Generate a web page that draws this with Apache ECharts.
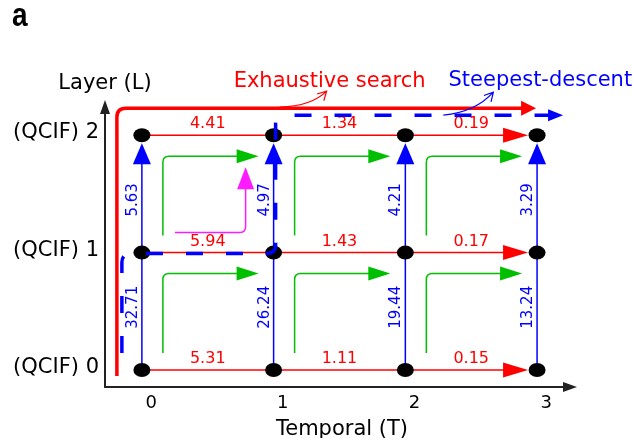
<!DOCTYPE html>
<html><head><meta charset="utf-8">
<script src="https://cdn.jsdelivr.net/npm/echarts@6/dist/echarts.min.js"></script>
<style>html,body{margin:0;padding:0;background:#fff}#c{width:633px;height:438px}</style>
</head><body><div id="c"></div>
<script>
// ---- data ----
const temporalTicks = ['0', '1', '2', '3'];
const layerTicks = ['(QCIF) 0', '(QCIF) 1', '(QCIF) 2'];
// temporal transition costs (T -> T+1) on each layer
const temporalCostL0 = [5.31, 1.11, 0.15];
const temporalCostL1 = [5.94, 1.43, 0.17];
const temporalCostL2 = [4.41, 1.34, 0.19];
// layer transition costs (L -> L+1) at each temporal index
const layerCost01 = [32.71, 26.24, 19.44, 13.24];
const layerCost12 = [5.63, 4.97, 4.21, 3.29];
// diagonal (temporal+layer) moves, given by lower-left node [T, L]
const diagonalMoves = [[0, 0], [1, 0], [2, 0], [0, 1], [1, 1], [2, 1]];
const highlightedMove = [[0, 1]];
// search paths through [T, L]
const exhaustivePath = [[0, 0], [0, 2], [3, 2]];
const steepestPath = [[0, 0], [0, 1], [1, 1], [1, 2], [3, 2]];
const pathNames = ['Exhaustive search', 'Steepest-descent'];

// ---- styles ----
const RED = '#ff0000', BLUE = '#0000ff', GREEN = '#00bf00', MAGENTA = '#ff1aff';
const FONT = '"DejaVu Sans", Verdana, sans-serif';

const temporalCosts = [temporalCostL0, temporalCostL1, temporalCostL2];
const layerCosts = [layerCost01, layerCost12];
const hData = [];
temporalCosts.forEach((row, l) => row.forEach((c, t) => hData.push([t, l, c])));
const vData = [];
layerCosts.forEach((col, l) => col.forEach((c, t) => vData.push([t, l, c])));
const nodeData = [];
layerTicks.forEach((_, l) => temporalTicks.forEach((_, t) => nodeData.push([t, l])));
const lastT = temporalTicks.length - 1, lastL = layerTicks.length - 1;

function tri(tip, ux, uy, len, hw, color) {
  const bx = tip[0] - ux * len, by = tip[1] - uy * len;
  const px = -uy, py = ux;
  return { type: 'polygon', shape: { points: [tip, [bx + px * hw, by + py * hw], [bx - px * hw, by - py * hw]] }, style: { fill: color } };
}

function renderHorizontal(params, api) {
  const t = api.value(0), l = api.value(1), cost = api.value(2);
  const p0 = api.coord([t, l]), p1 = api.coord([t + 1, l]);
  const last = (t + 1 === lastT);
  const ch = [];
  ch.push({ type: 'line', shape: { x1: p0[0], y1: p0[1], x2: last ? p1[0] - 25 : p1[0], y2: p1[1] }, style: { stroke: RED, lineWidth: 1.5 } });
  if (last) ch.push(tri([p1[0] - 9, p1[1]], 1, 0, 25, 7.5, RED));
  ch.push({ type: 'text', x: (p0[0] + p1[0]) / 2, y: p0[1] - 11, style: { text: cost.toFixed(2), fill: RED, font: '16px ' + FONT, align: 'center', verticalAlign: 'middle' } });
  return { type: 'group', children: ch };
}

function renderVertical(params, api) {
  const t = api.value(0), l = api.value(1), cost = api.value(2);
  const p0 = api.coord([t, l]), p1 = api.coord([t, l + 1]);
  const top = (l + 1 === lastL);
  const ch = [];
  ch.push({ type: 'line', shape: { x1: p0[0], y1: p0[1], x2: p1[0], y2: top ? p1[1] + 20 : p1[1] }, style: { stroke: BLUE, lineWidth: 1.5 } });
  if (top) ch.push(tri([p1[0], p1[1] + 8], 0, -1, 21, 9, BLUE));
  ch.push({ type: 'text', x: p0[0] - 9, y: (p0[1] + p1[1]) / 2 + (top ? 6 : -4), rotation: Math.PI / 2, style: { text: cost.toFixed(2), fill: BLUE, font: '15px ' + FONT, align: 'center', verticalAlign: 'middle' } });
  return { type: 'group', children: ch };
}

function renderDiagonal(params, api) {
  const t = api.value(0), l = api.value(1);
  const p0 = api.coord([t, l]), p1 = api.coord([t + 1, l + 1]);
  const x = p0[0] + 21, yb = p0[1] - 17, yt = p1[1] + 21, tip = p1[0] - 15, r = 6;
  return { type: 'group', children: [
    { type: 'path', shape: { pathData: `M${x} ${yb}L${x} ${yt + r}Q${x} ${yt} ${x + r} ${yt}L${tip - 20} ${yt}` }, style: { fill: 'none', stroke: GREEN, lineWidth: 1.5 } },
    tri([tip, yt], 1, 0, 22, 7, GREEN)
  ] };
}

function renderHighlight(params, api) {
  const t = api.value(0), l = api.value(1);
  const p0 = api.coord([t, l]), p1 = api.coord([t + 1, l + 1]);
  const x0 = p0[0] + 33, y0 = p0[1] - 20, x1 = p1[0] - 28, tipY = p1[1] + 32, r = 6;
  return { type: 'group', children: [
    { type: 'path', shape: { pathData: `M${x0} ${y0}L${x1 - r} ${y0}Q${x1} ${y0} ${x1} ${y0 - r}L${x1} ${tipY + 18}` }, style: { fill: 'none', stroke: MAGENTA, lineWidth: 1.5 } },
    tri([x1, tipY], 0, -1, 22, 8.5, MAGENTA)
  ] };
}

function roundedPath(pts, r, shorten) {
  let d = `M${pts[0][0]} ${pts[0][1]}`;
  for (let i = 1; i < pts.length - 1; i++) {
    const [px, py] = pts[i - 1], [cx, cy] = pts[i], [nx, ny] = pts[i + 1];
    const l1 = Math.hypot(cx - px, cy - py), l2 = Math.hypot(nx - cx, ny - cy);
    const rr = Math.min(r, l1 / 2, l2 / 2);
    d += `L${cx + (px - cx) / l1 * rr} ${cy + (py - cy) / l1 * rr}Q${cx} ${cy} ${cx + (nx - cx) / l2 * rr} ${cy + (ny - cy) / l2 * rr}`;
  }
  const a = pts[pts.length - 2], b = pts[pts.length - 1];
  const L = Math.hypot(b[0] - a[0], b[1] - a[1]);
  d += `L${b[0] - (b[0] - a[0]) / L * shorten} ${b[1] - (b[1] - a[1]) / L * shorten}`;
  return d;
}

function pointer(s, c, e, color) {
  const dx = e[0] - c[0], dy = e[1] - c[1], L = Math.hypot(dx, dy), ux = dx / L, uy = dy / L;
  const a = 0.5, len = 10;
  const w1 = [e[0] - len * (ux * Math.cos(a) - uy * Math.sin(a)), e[1] - len * (uy * Math.cos(a) + ux * Math.sin(a))];
  const w2 = [e[0] - len * (ux * Math.cos(-a) - uy * Math.sin(-a)), e[1] - len * (uy * Math.cos(-a) + ux * Math.sin(-a))];
  return { type: 'path', shape: { pathData: `M${s[0]} ${s[1]}Q${c[0]} ${c[1]} ${e[0]} ${e[1]}M${w1[0]} ${w1[1]}L${e[0]} ${e[1]}L${w2[0]} ${w2[1]}` }, style: { fill: 'none', stroke: color, lineWidth: 1.2 } };
}

function pathSeries(path, offsets, color, dash, arrowHW, name, anchorPt, ann) {
  return {
    type: 'custom', z: 6, silent: true, data: path,
    renderItem: function (params, api) {
      if (params.dataIndex !== 0) return null;
      const pts = path.map((p, i) => { const c = api.coord(p); return [c[0] + offsets[i][0], c[1] + offsets[i][1]]; });
      const n = pts.length, a = pts[n - 2], b = pts[n - 1];
      const L = Math.hypot(b[0] - a[0], b[1] - a[1]);
      const anc = api.coord(anchorPt);
      const P = (o) => [anc[0] + o[0], anc[1] + o[1]];
      return { type: 'group', children: [
        { type: 'path', shape: { pathData: roundedPath(pts, 9, 12) }, style: { fill: 'none', stroke: color, lineWidth: 3.5, lineDash: dash, lineCap: 'butt' } },
        tri(b, (b[0] - a[0]) / L, (b[1] - a[1]) / L, 15, arrowHW, color),
        pointer(P(ann.s), P(ann.c), P(ann.e), color),
        { type: 'text', x: anc[0] + ann.t[0], y: anc[1] + ann.t[1], style: { text: name, fill: color, font: '21px ' + FONT, align: 'center', verticalAlign: 'middle' } }
      ] };
    }
  };
}

const chart = echarts.init(document.getElementById('c'), null, { renderer: 'canvas' });
chart.setOption({
  animation: false,
  backgroundColor: '#fff',
  grid: { left: 105, right: 63, top: 107, bottom: 51, containLabel: false, outerBoundsMode: 'none' },
  graphic: [{ type: 'text', x: 12, y: 0, scaleY: 1.2, style: { text: 'a', font: 'bold 28px "Liberation Sans", Arial, sans-serif', fill: '#000', verticalAlign: 'top' } }],
  xAxis: {
    type: 'value', min: -0.28, max: 3.25,
    splitLine: { show: false }, axisTick: { show: false },
    axisLine: { onZero: false, lineStyle: { color: '#222', width: 2 }, symbol: ['none', 'triangle'], symbolSize: [10, 14] },
    axisLabel: { customValues: temporalTicks.map((_, i) => i + 0.07), formatter: (v) => temporalTicks[Math.round(v)], margin: 7, color: '#000', fontSize: 18, fontFamily: FONT },
    name: 'Temporal (T)', nameLocation: 'middle', nameGap: 32,
    nameTextStyle: { color: '#000', fontSize: 21, fontFamily: FONT, padding: [0, 0, 0, 9] }
  },
  yAxis: {
    type: 'value', min: -0.145, max: 2.24,
    splitLine: { show: false }, axisTick: { show: false },
    axisLine: { onZero: false, lineStyle: { color: '#222', width: 2 }, symbol: ['none', 'triangle'], symbolSize: [10, 14] },
    axisLabel: { customValues: layerTicks.map((_, i) => i + 0.02), formatter: (v) => layerTicks[Math.round(v)], margin: 6, color: '#000', fontSize: 21, fontFamily: FONT },
    name: 'Layer (L)', nameLocation: 'end', nameGap: 13,
    nameTextStyle: { color: '#000', fontSize: 21, fontFamily: FONT }
  },
  series: [
    { type: 'custom', z: 2, silent: true, data: diagonalMoves, renderItem: renderDiagonal },
    { type: 'custom', z: 2, silent: true, data: highlightedMove, renderItem: renderHighlight },
    { type: 'custom', z: 3, silent: true, data: hData, renderItem: renderHorizontal },
    { type: 'custom', z: 3, silent: true, data: vData, renderItem: renderVertical },
    { type: 'scatter', z: 5, silent: true, data: nodeData,
      symbol: 'path://M0 10A10 10 0 1 0 20 10A10 10 0 1 0 0 10Z', symbolSize: [17, 14],
      itemStyle: { color: '#000', opacity: 1 } },
    pathSeries(exhaustivePath, [[-25, 6], [-25, -27], [-1, -27]], RED, null, 7.5, pathNames[0], [1, 2],
      { s: [6, -28], c: [38, -29], e: [53, -44], t: [56, -54] }),
    pathSeries(steepestPath, [[-20, -17], [-20, 1], [2, 1], [2, -20], [26, -20]], BLUE, [17, 23], 6, pathNames[1], [2, 2],
      { s: [38, -20], c: [70, -23], e: [88, -43], t: [135, -55] })
  ]
});
</script>
</body></html>
